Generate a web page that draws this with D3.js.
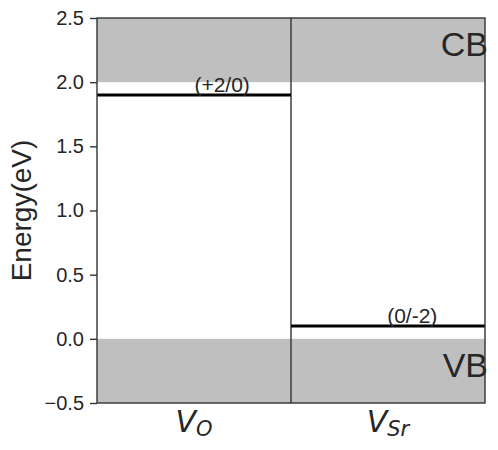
<!DOCTYPE html>
<html>
<head>
<meta charset="utf-8">
<script src="https://cdn.jsdelivr.net/npm/d3@7"></script>
<style>
  body { margin: 0; background: #fff; }
  text { font-family: "Liberation Sans", Arial, sans-serif; fill: #262626; }
</style>
</head>
<body>
<svg width="498" height="450"></svg>
<script>
const
    margin = { top: 18, right: 13, bottom: 47, left: 97 },
    width = 498,
    height = 450

// defects and their transition levels
const defects = ["O", "Sr"]
const levels = [1.9, 0.1]
const levelLabels = ["(+2/0)", "(0/-2)"]
const yTicks = [-0.5, 0.0, 0.5, 1.0, 1.5, 2.0, 2.5]
const bands = [
    { name: "CB", lo: 2.0, hi: 2.5 },
    { name: "VB", lo: -0.5, hi: 0.0 }
]

const x = d3.scaleBand()
    .domain(defects)
    .range([margin.left, width - margin.right])

const y = d3.scaleLinear()
    .domain([-0.5, 2.5])
    .range([height - margin.bottom, margin.top])

const svg = d3.select("svg")

// band shading
svg.append("g")
    .selectAll("rect")
    .data(bands)
    .join("rect")
    .attr("x", margin.left)
    .attr("y", d => y(d.hi))
    .attr("width", width - margin.right - margin.left)
    .attr("height", d => y(d.lo) - y(d.hi))
    .attr("fill", "#bfbfbf")

// divider between defects
svg.append("g")
    .selectAll("line")
    .data(defects.slice(1))
    .join("line")
    .attr("x1", d => x(d))
    .attr("x2", d => x(d))
    .attr("y1", margin.top)
    .attr("y2", height - margin.bottom)
    .attr("stroke", "#333")
    .attr("stroke-width", 1.4)

// transition levels
svg.append("g")
    .selectAll("line")
    .data(defects)
    .join("line")
    .attr("x1", d => x(d))
    .attr("x2", d => x(d) + x.bandwidth())
    .attr("y1", (d, i) => y(levels[i]))
    .attr("y2", (d, i) => y(levels[i]))
    .attr("stroke", "#000")
    .attr("stroke-width", 3)

svg.append("g")
    .selectAll("text")
    .data(defects)
    .join("text")
    .attr("x", (d, i) => x(d) + x.bandwidth() * (i === 0 ? 0.645 : 0.625))
    .attr("y", (d, i) => y(levels[i]) - 3)
    .attr("text-anchor", "middle")
    .attr("font-size", 21)
    .text((d, i) => levelLabels[i])

// band labels
svg.append("g")
    .selectAll("text")
    .data(bands)
    .join("text")
    .attr("x", width - margin.right + 3)
    .attr("y", d => y(d.hi) + 38)
    .attr("text-anchor", "end")
    .attr("font-size", 34)
    .text(d => d.name)

// frame
svg.append("rect")
    .attr("x", margin.left)
    .attr("y", margin.top)
    .attr("width", width - margin.right - margin.left)
    .attr("height", height - margin.bottom - margin.top)
    .attr("fill", "none")
    .attr("stroke", "#333")
    .attr("stroke-width", 1.4)

// y axis
const yAxis = svg.append("g")
    .attr("transform", `translate(${margin.left},0)`)
    .call(d3.axisLeft(y).tickValues(yTicks).tickSize(7).tickPadding(6))
yAxis.select(".domain").remove()
yAxis.selectAll("line").attr("stroke", "#333").attr("stroke-width", 1.4)
yAxis.selectAll("text")
    .attr("font-size", 20)
    .attr("fill", "#262626")
    .attr("font-family", "Liberation Sans, Arial, sans-serif")
    .text(d => d3.format(".1f")(d).replace("-", "\u2212"))

svg.append("text")
    .attr("transform", `translate(31,${(margin.top + height - margin.bottom) / 2}) rotate(-90)`)
    .attr("text-anchor", "middle")
    .attr("font-size", 28)
    .text("Energy(eV)")

// x labels: V with subscript
const xl = svg.append("g")
    .selectAll("text")
    .data(defects)
    .join("text")
    .attr("x", d => x(d) + x.bandwidth() / 2)
    .attr("y", 432)
    .attr("text-anchor", "middle")
    .attr("font-size", 30)
    .attr("font-style", "italic")
    .style("font-family", "'DejaVu Sans', sans-serif")
xl.append("tspan").text("V")
xl.append("tspan")
    .attr("font-size", 21)
    .attr("dy", 4)
    .text(d => d)
</script>
</body>
</html>
